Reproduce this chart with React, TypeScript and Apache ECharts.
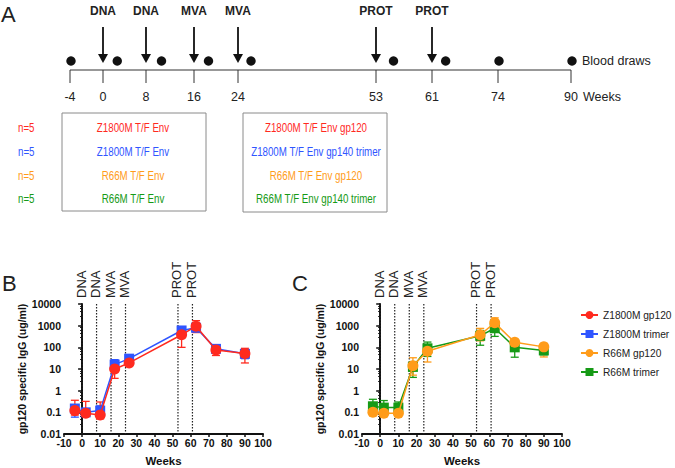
import React, { useEffect, useRef } from "react";
import * as echarts from "echarts";

// ---------- data ----------
const timelineTicks = [-4, 0, 8, 16, 24, 53, 61, 74, 90];
const bloodDrawWeeks = [-4, 2, 10, 18, 26, 55, 63, 74, 90];
const eventWeeks = [0, 8, 16, 24, 53, 61];
const eventLabels = ["DNA", "DNA", "MVA", "MVA", "PROT", "PROT"];
const groupSizes = ["n=5", "n=5", "n=5", "n=5"];
const primeLabels = ["Z1800M T/F Env", "Z1800M T/F Env", "R66M T/F Env", "R66M T/F Env"];
const boostLabels = [
  "Z1800M T/F Env gp120",
  "Z1800M T/F Env gp140 trimer",
  "R66M T/F Env gp120",
  "R66M T/F Env gp140 trimer",
];

const sampleWeeks = [-4, 2, 10, 18, 26, 55, 63, 74, 90];
const seriesNames = ["Z1800M gp120", "Z1800M trimer", "R66M gp120", "R66M trimer"];

const z1800mGp120 = [0.12, 0.09, 0.075, 10, 19, 380, 950, 76, 52];
const z1800mGp120Low = [0.075, 0.07, 0.05, 3.7, 15, 100, 480, 42, 19];
const z1800mGp120High = [0.36, 0.32, 0.3, 21, 34, 620, 1700, 110, 90];

const z1800mTrimer = [0.15, 0.1, 0.12, 16, 30, 600, 800, 85, 50];
const z1800mTrimerLow = [0.06, 0.08, 0.058, 9, 20, 320, 520, 60, 30];
const z1800mTrimerHigh = [0.2, 0.13, 0.2, 27, 45, 850, 1050, 100, 70];

const r66mGp120 = [0.1, 0.09, 0.09, 14, 66, 380, 1350, 170, 105];
const r66mGp120Low = [0.08, 0.085, 0.085, 5.2, 21, 200, 600, 120, 36];
const r66mGp120High = [0.14, 0.1, 0.1, 33, 100, 750, 2300, 210, 150];

const r66mTrimer = [0.19, 0.165, 0.165, 12.5, 90, 340, 760, 100, 72];
const r66mTrimerLow = [0.1, 0.1, 0.1, 4.1, 38, 125, 320, 35, 45];
const r66mTrimerHigh = [0.4, 0.35, 0.3, 22, 175, 600, 1000, 135, 125];

// ---------- style / layout ----------
const RED = "#ff2a1f";
const BLUE = "#2f55ff";
const ORANGE = "#ff9c1a";
const GREEN = "#169a16";
const TEXT = "#222";
const SANS = "Arial, 'Liberation Sans', sans-serif";
const CONDENSE = 0.78;

// schematic anchor pixels for the timeline ticks (panel A is not to scale)
const TL_X = [70, 103, 146, 194, 238, 376, 432, 498, 571];
const TL_Y = 70;

function weekToX(w: number): number {
  for (let i = 0; i < timelineTicks.length - 1; i++) {
    const a = timelineTicks[i];
    const b = timelineTicks[i + 1];
    if (w >= a && w <= b) return TL_X[i] + ((w - a) / (b - a)) * (TL_X[i + 1] - TL_X[i]);
  }
  return TL_X[TL_X.length - 1];
}

const rowY = [128, 152, 176, 199];
const rowColors = [RED, BLUE, ORANGE, GREEN];

function narrowText(text: string, x: number, y: number, fill: string, align: string) {
  return {
    type: "text",
    x,
    y,
    scaleX: CONDENSE,
    style: { text, font: `12.5px ${SANS}`, fill, align, verticalAlign: "middle" },
  };
}

function buildGraphic(): any[] {
  const g: any[] = [];
  const letter = (t: string, x: number, y: number) => ({
    type: "text",
    x,
    y,
    style: { text: t, font: `22px ${SANS}`, fill: TEXT, align: "left", verticalAlign: "middle" },
  });
  g.push(letter("A", 1, 14));
  g.push(letter("B", 2, 283));
  g.push(letter("C", 292, 283));

  // timeline axis
  g.push({
    type: "line",
    shape: { x1: TL_X[0], y1: TL_Y, x2: TL_X[TL_X.length - 1], y2: TL_Y },
    style: { stroke: "#333", lineWidth: 1 },
  });
  timelineTicks.forEach((w) => {
    const x = weekToX(w);
    g.push({ type: "line", shape: { x1: x, y1: TL_Y, x2: x, y2: TL_Y + 13 }, style: { stroke: "#333", lineWidth: 1 } });
    g.push({
      type: "text",
      x,
      y: 97,
      style: { text: String(w), font: `12.5px ${SANS}`, fill: TEXT, align: "center", verticalAlign: "middle" },
    });
  });
  g.push({
    type: "text",
    x: weekToX(90) + 12,
    y: 97,
    style: { text: "Weeks", font: `12.5px ${SANS}`, fill: TEXT, align: "left", verticalAlign: "middle" },
  });

  // vaccinations
  eventWeeks.forEach((w, i) => {
    const x = weekToX(w);
    g.push({
      type: "text",
      x,
      y: 11,
      style: { text: eventLabels[i], font: `bold 12px ${SANS}`, fill: TEXT, align: "center", verticalAlign: "middle" },
    });
    g.push({ type: "line", shape: { x1: x, y1: 27, x2: x, y2: 55 }, style: { stroke: "#111", lineWidth: 1.8 } });
    g.push({
      type: "polygon",
      shape: { points: [[x - 5, 54], [x + 5, 54], [x, 63]] },
      style: { fill: "#111" },
    });
  });

  // blood draws
  bloodDrawWeeks.forEach((w) => {
    const onTick = timelineTicks.indexOf(w) >= 0;
    const x = weekToX(w) + (onTick ? 1 : 3.5);
    g.push({ type: "circle", shape: { cx: x, cy: 61, r: 4.7 }, style: { fill: "#111" } });
  });
  g.push({
    type: "text",
    x: weekToX(90) + 11,
    y: 61,
    style: { text: "Blood draws", font: `12.5px ${SANS}`, fill: TEXT, align: "left", verticalAlign: "middle" },
  });

  // group boxes
  g.push({ type: "rect", shape: { x: 62, y: 113, width: 144, height: 98 }, style: { fill: "none", stroke: "#8a8a8a", lineWidth: 1 } });
  g.push({ type: "rect", shape: { x: 243, y: 113, width: 144, height: 99 }, style: { fill: "none", stroke: "#8a8a8a", lineWidth: 1 } });
  rowY.forEach((y, i) => {
    const c = rowColors[i];
    g.push(narrowText(groupSizes[i], 18, y, c, "left"));
    g.push(narrowText(primeLabels[i], 133, y, c, "center"));
    g.push(narrowText(boostLabels[i], 316, y, c, "center"));
  });
  return g;
}

function errorSeries(color: string, lows: number[], highs: number[], axisIndex: number) {
  return {
    type: "custom",
    name: "err" + color,
    xAxisIndex: axisIndex,
    yAxisIndex: axisIndex,
    z: 2,
    silent: true,
    clip: false,
    encode: { x: 0, y: [1, 2] },
    data: sampleWeeks.map((w, i) => [w, lows[i], highs[i]]),
    renderItem: (params: any, api: any) => {
      const x = api.value(0);
      const lo = api.coord([x, api.value(1)]);
      const hi = api.coord([x, api.value(2)]);
      const cap = 4;
      const st = { stroke: color, lineWidth: 1.3 };
      return {
        type: "group",
        children: [
          { type: "line", shape: { x1: lo[0], y1: lo[1], x2: hi[0], y2: hi[1] }, style: st },
          { type: "line", shape: { x1: lo[0] - cap, y1: lo[1], x2: lo[0] + cap, y2: lo[1] }, style: st },
          { type: "line", shape: { x1: hi[0] - cap, y1: hi[1], x2: hi[0] + cap, y2: hi[1] }, style: st },
        ],
      };
    },
  };
}

function eventSeries(axisIndex: number) {
  return {
    type: "custom",
    name: "events" + axisIndex,
    xAxisIndex: axisIndex,
    yAxisIndex: axisIndex,
    z: 1,
    silent: true,
    clip: false,
    encode: { x: 0, y: 1 },
    data: eventWeeks.map((w) => [w, 1]),
    renderItem: (params: any, api: any) => {
      const x = api.value(0);
      const top = api.coord([x, 10000]);
      const bottom = api.coord([x, 0.01]);
      return {
        type: "group",
        children: [
          {
            type: "line",
            shape: { x1: top[0], y1: top[1], x2: bottom[0], y2: bottom[1] },
            style: { stroke: "#222", lineWidth: 1.2, lineDash: [1.5, 1.5] },
          },
          {
            type: "text",
            x: top[0] - 1,
            y: top[1] - 6,
            rotation: Math.PI / 2,
            style: {
              text: eventLabels[params.dataIndex],
              font: `13px ${SANS}`,
              fill: TEXT,
              align: "left",
              verticalAlign: "middle",
            },
          },
        ],
      };
    },
  };
}

function lineSeries(name: string, values: number[], color: string, symbol: string, axisIndex: number, z: number) {
  return {
    type: "line",
    name,
    xAxisIndex: axisIndex,
    yAxisIndex: axisIndex,
    z,
    symbol,
    symbolSize: symbol === "circle" ? 11 : 10,
    showAllSymbol: true,
    data: sampleWeeks.map((w, i) => [w, values[i]]),
    lineStyle: { color, width: 1.5 },
    itemStyle: { color },
  };
}

const axisLabelStyle = { fontFamily: SANS, fontWeight: "bold" as const, fontSize: 10.5, color: "#111" };

function xAxis(gridIndex: number) {
  return {
    type: "value",
    gridIndex,
    min: -10,
    max: 100,
    interval: 10,
    name: "Weeks",
    nameLocation: "middle",
    nameGap: 21,
    nameTextStyle: { fontFamily: SANS, fontWeight: "bold", fontSize: 11.5, color: "#111" },
    axisLine: { show: true, lineStyle: { color: "#111", width: 2 } },
    axisTick: { show: true, length: 3, lineStyle: { color: "#111", width: 1.5 } },
    axisLabel: { ...axisLabelStyle, margin: 3 },
    splitLine: { show: false },
  };
}

function yAxis(gridIndex: number) {
  return {
    type: "log",
    logBase: 10,
    gridIndex,
    min: 0.01,
    max: 10000,
    name: "gp120 specific IgG (ug/ml)",
    nameLocation: "middle",
    nameRotate: 90,
    nameGap: 36,
    nameTextStyle: { fontFamily: SANS, fontWeight: "bold", fontSize: 10.5, color: "#111" },
    axisLine: { show: true, lineStyle: { color: "#111", width: 2 } },
    axisTick: { show: true, length: 4, lineStyle: { color: "#111", width: 1.5 } },
    minorTick: { show: true, splitNumber: 5, length: 2, lineStyle: { color: "#111", width: 1 } },
    axisLabel: {
      ...axisLabelStyle,
      margin: 3,
      formatter: (v: number) => String(v),
    },
    splitLine: { show: false },
  };
}

export default function App() {
  const ref = useRef<HTMLDivElement>(null);
  useEffect(() => {
    if (!ref.current) return;
    const chart = echarts.init(ref.current, undefined, { renderer: "svg" });
    chart.setOption({
      animation: false,
      backgroundColor: "#fff",
      textStyle: { fontFamily: SANS },
      grid: [
        { left: 64, top: 304, width: 199, height: 132 },
        { left: 362, top: 304, width: 200, height: 132 },
      ],
      xAxis: [xAxis(0), xAxis(1)],
      yAxis: [yAxis(0), yAxis(1)],
      legend: {
        orient: "vertical",
        left: 575,
        top: 303,
        itemWidth: 17,
        itemHeight: 10,
        itemGap: 5,
        data: seriesNames,
        textStyle: { fontFamily: SANS, fontSize: 10.2, color: TEXT, lineHeight: 14 },
      },
      graphic: buildGraphic(),
      series: [
        eventSeries(0),
        eventSeries(1),
        errorSeries(BLUE, z1800mTrimerLow, z1800mTrimerHigh, 0),
        errorSeries(RED, z1800mGp120Low, z1800mGp120High, 0),
        errorSeries(GREEN, r66mTrimerLow, r66mTrimerHigh, 1),
        errorSeries(ORANGE, r66mGp120Low, r66mGp120High, 1),
        lineSeries(seriesNames[1], z1800mTrimer, BLUE, "rect", 0, 3),
        lineSeries(seriesNames[0], z1800mGp120, RED, "circle", 0, 4),
        lineSeries(seriesNames[3], r66mTrimer, GREEN, "rect", 1, 3),
        lineSeries(seriesNames[2], r66mGp120, ORANGE, "circle", 1, 4),
      ],
    });
    return () => chart.dispose();
  }, []);
  return <div ref={ref} style={{ width: 675, height: 468, position: "absolute", left: 0, top: 0 }} />;
}
